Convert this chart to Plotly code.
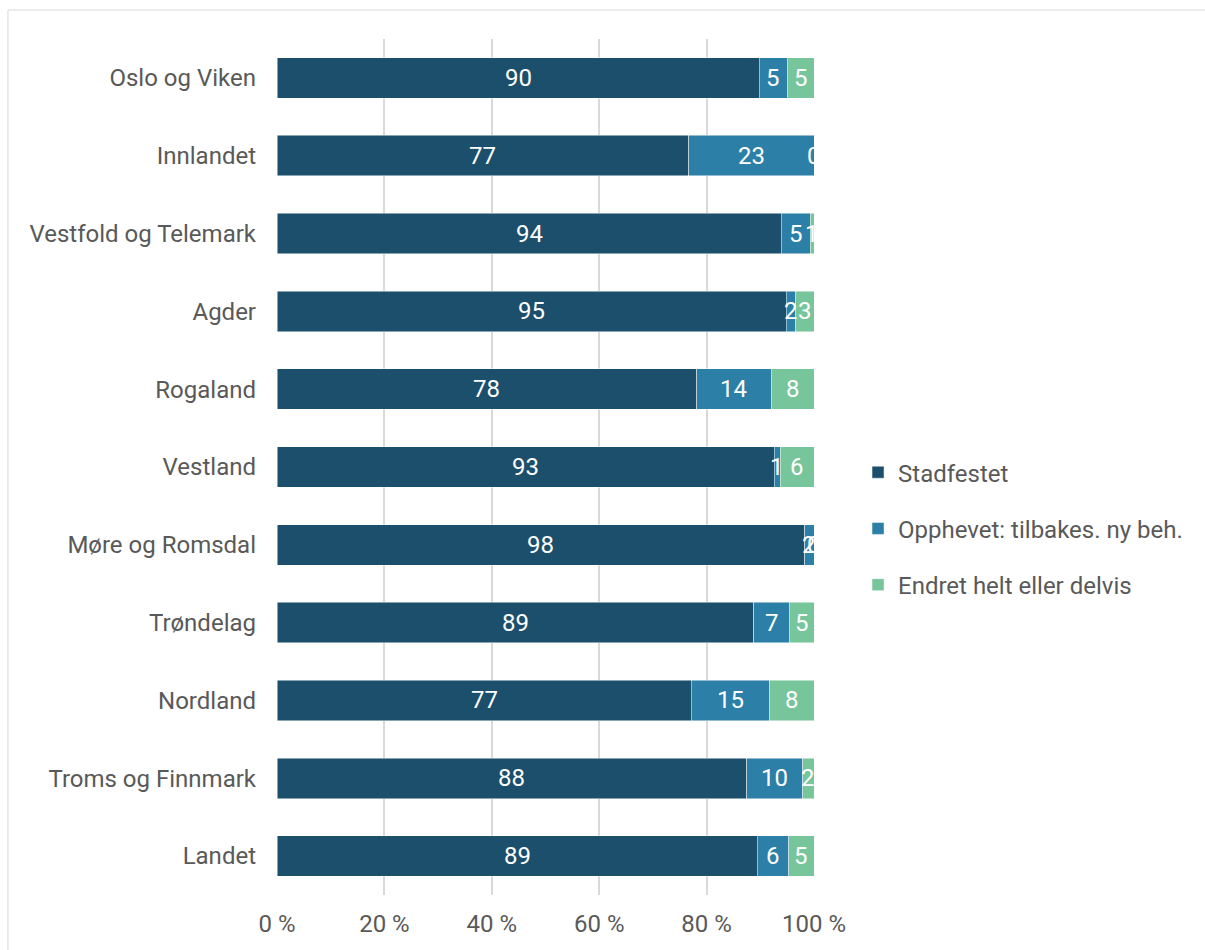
import plotly.graph_objects as go

categories = ["Oslo og Viken", "Innlandet", "Vestfold og Telemark", "Agder", "Rogaland",
              "Vestland", "Møre og Romsdal", "Trøndelag", "Nordland", "Troms og Finnmark", "Landet"]
stadfestet = [89.8, 76.7, 93.9, 94.8, 78.2, 92.6, 98.3, 88.8, 77.1, 87.5, 89.4]
opphevet = [5.2, 23.3, 5.4, 1.8, 13.8, 1.1, 1.7, 6.6, 14.6, 10.4, 5.9]
endret = [5.0, 0.0, 0.7, 3.4, 8.0, 6.3, 0.0, 4.6, 8.3, 2.1, 4.7]
tick_vals = [0, 20, 40, 60, 80, 100]
tick_text = ["0 %", "20 %", "40 %", "60 %", "80 %", "100 %"]

series = [
    ("Stadfestet", stadfestet, "#1b4f6b"),
    ("Opphevet: tilbakes. ny beh.", opphevet, "#2c7fa7"),
    ("Endret helt eller delvis", endret, "#77c59b"),
]

FONT = "Roboto, Arial, sans-serif"
SIZE = 24
GREY = "#595959"
fig = go.Figure()
for name, vals, col in series:
    fig.add_trace(go.Bar(
        y=categories, x=vals, name=name, orientation="h",
        marker=dict(color=col, line=dict(color="rgba(255,255,255,0.6)", width=0.8)),
        legendgroup=name, hoverinfo="x+y",
    ))

# data labels centred on each segment
annotations = []
cum = [0.0] * len(categories)
for name, vals, col in series:
    for j, v in enumerate(vals):
        annotations.append(dict(
            x=cum[j] + v / 2, y=categories[j], xref="x", yref="y",
            text=str(int(v + 0.5)), showarrow=False,
            font=dict(family=FONT, size=SIZE, color="white"),
            xanchor="center", yanchor="middle",
        ))
        cum[j] += v

fig.update_layout(
    barmode="stack",
    bargap=0.48,
    width=1205, height=950,
    margin=dict(l=277, r=391, t=39, b=55),
    plot_bgcolor="white", paper_bgcolor="white",
    font=dict(family=FONT, size=SIZE, color=GREY),
    annotations=annotations,
    legend=dict(
        x=1.082, xanchor="left", y=0.428, yanchor="middle",
        traceorder="grouped", tracegroupgap=22,
        font=dict(family=FONT, size=SIZE, color=GREY),
    ),
    shapes=[dict(type="rect", xref="paper", yref="paper",
                 x0=-0.501, x1=1.8, y0=-0.2, y1=1.0339,
                 line=dict(color="#d9d9d9", width=1), fillcolor="rgba(0,0,0,0)", layer="below")],
)
fig.update_xaxes(
    range=[0, 100], tickmode="array", tickvals=tick_vals, ticktext=tick_text,
    showgrid=True, gridcolor="#d9d9d9", gridwidth=2, zeroline=False,
    showline=False, ticks="", ticklabelstandoff=12,
    tickfont=dict(family=FONT, size=SIZE, color=GREY),
)
fig.update_yaxes(
    autorange="reversed", showgrid=False, ticks="", showline=False,
    ticklabelstandoff=20,
    tickfont=dict(family=FONT, size=SIZE, color=GREY),
)
fig.write_html("out.html")
